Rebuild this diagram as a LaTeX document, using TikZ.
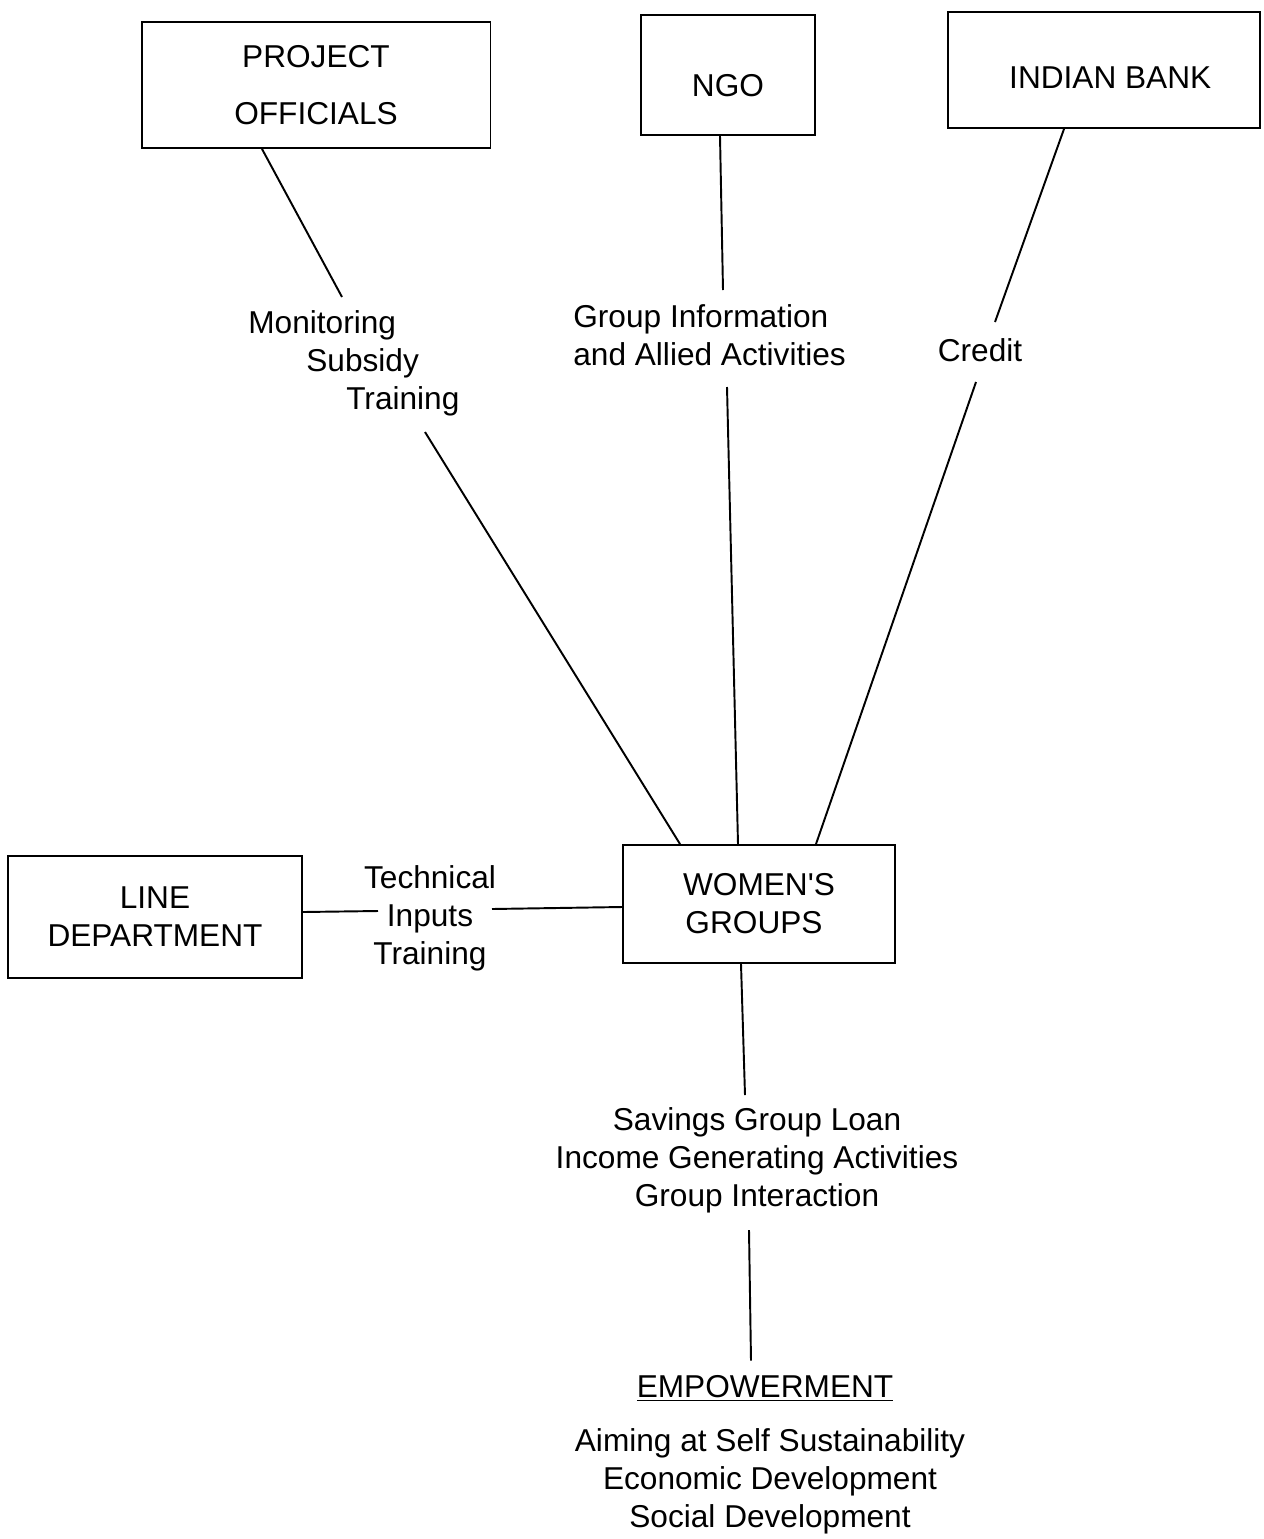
\documentclass[tikz,border=0pt]{standalone}
\usepackage{fontspec}
\setmainfont{Liberation Sans}
\usetikzlibrary{calc}
\tikzset{
  agency/.style={draw=black,line width=1.1pt,align=center,inner sep=0pt,
    font=\fontsize{18}{21.6}\selectfont},
  flowtext/.style={align=center,inner sep=0pt,font=\fontsize{18}{21.6}\selectfont},
  link/.style={draw=black,line width=1.1pt}
}
\begin{document}
\begin{tikzpicture}[x=0.02cm,y=-0.02cm]
  \useasboundingbox[fill=white] (0,0) rectangle (1264,1539);
  % agencies
  \node[agency,minimum width=6.98cm,minimum height=2.52cm] (po) at (316,85) {PROJECT\\[0.38cm]OFFICIALS};
  \node[agency,minimum width=3.48cm,minimum height=2.4cm,text height=0.85cm] (ngo) at (728,75) {NGO};
  \node[agency,minimum width=6.24cm,minimum height=2.32cm,text height=0.73cm] (bank) at (1104,70) {\hspace*{0.25cm}INDIAN BANK};
  \node[agency,minimum width=5.88cm,minimum height=2.44cm] (ld) at (155,917) {LINE\\DEPARTMENT};
  \node[agency,minimum width=5.44cm,minimum height=2.36cm] (wg) at (759,904) {WOMEN\textquotesingle S\\GROUPS\hspace*{0.2cm}};
  % what flows
  \node[flowtext,align=left,anchor=west] (mon) at (248,363)
    {Monitoring\\\hspace*{1.16cm}Subsidy\\\hspace*{1.96cm}Training};
  \node[flowtext,align=left,anchor=west] (grp) at (573,335) {Group Information\\and Allied Activities};
  \node[flowtext] (credit) at (980,350) {Credit};
  \node[flowtext] (tech) at (430,918) {Technical\\Inputs\\Training};
  \node[flowtext] (sav) at (757,1160) {Savings Group Loan\\Income Generating Activities\\Group Interaction};
  \node[flowtext] (emp) at (765,1388) {\underline{EMPOWERMENT}};
  \node[flowtext] (aim) at (770,1481) {Aiming at Self Sustainability\\Economic Development\\Social Development};
  % gap ends
  \coordinate (mon-in) at (342,297);
  \coordinate (mon-out) at (425,432);
  \coordinate (grp-in) at (723,290);
  \coordinate (grp-out) at (727,387);
  \coordinate (credit-in) at (995,322);
  \coordinate (credit-out) at (976,382);
  \coordinate (tech-in) at (378,911);
  \coordinate (tech-out) at (492,909);
  \coordinate (sav-in) at (745,1095);
  \coordinate (sav-out) at (749,1230);
  % connectors
  \draw[link] ($(po.south)+(-54,0)$) -- (mon-in);
  \draw[link] (mon-out) -- ($(wg.north)+(-79,0)$);
  \draw[link] ($(ngo.south)+(-8,0)$) -- (grp-in);
  \draw[link] (grp-out) -- ($(wg.north)+(-21,0)$);
  \draw[link] ($(bank.south)+(-40,0)$) -- (credit-in);
  \draw[link] (credit-out) -- ($(wg.north)+(57,0)$);
  \draw[link] ($(ld.east)+(0,-5)$) -- (tech-in);
  \draw[link] (tech-out) -- ($(wg.west)+(0,3)$);
  \draw[link] ($(wg.south)+(-18,0)$) -- (sav-in);
  \draw[link] (sav-out) -- ($(emp.north)+(-14,-14)$);
\end{tikzpicture}
\end{document}
